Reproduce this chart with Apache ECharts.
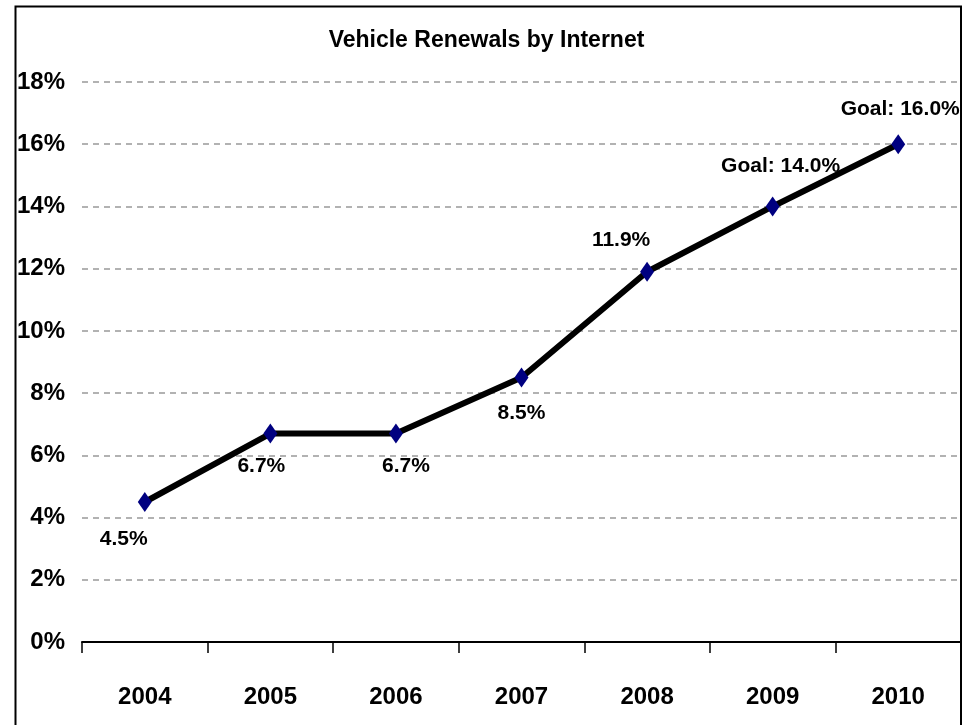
<!DOCTYPE html>
<html>
<head>
<meta charset="utf-8">
<script src="https://cdn.jsdelivr.net/npm/echarts@6/dist/echarts.min.js"></script>
<style>
html,body{margin:0;padding:0;background:#fff;}
#chart{width:973px;height:725px;}
</style>
</head>
<body>
<div id="chart"></div>
<script>
const titleText = 'Vehicle Renewals by Internet';
const categories = ['2004', '2005', '2006', '2007', '2008', '2009', '2010'];
const renewalPct = [4.5, 6.7, 6.7, 8.5, 11.9, 14.0, 16.0];
const labelPrefix = ['', '', '', '', '', 'Goal: ', 'Goal: '];
const yTicks = [0, 2, 4, 6, 8, 10, 12, 14, 16, 18];

// label placement (style only)
const labelOffsets = [[-21, 37], [-9, 33], [10, 33], [0, 36], [-26, -32], [8, -40], [2, -35]];

const FONT = "'Liberation Sans', Arial, sans-serif";

const chart = echarts.init(document.getElementById('chart'));
chart.setOption({
  backgroundColor: '#fff',
  animation: false,
  title: {
    text: titleText,
    left: 'center',
    top: 24,
    textStyle: { fontFamily: FONT, fontWeight: 'bold', fontSize: 23, color: '#000' }
  },
  graphic: [{
    type: 'rect',
    silent: true,
    shape: { x: 15.5, y: 6.5, width: 945.5, height: 800 },
    style: { fill: 'none', stroke: '#000', lineWidth: 2 }
  }],
  grid: { left: 82, right: 12, top: 82, bottom: 83, containLabel: false },
  xAxis: {
    type: 'category',
    data: categories,
    boundaryGap: true,
    axisLine: { lineStyle: { color: '#000', width: 2 } },
    axisTick: { show: true, length: 11, inside: false, lineStyle: { color: '#000', width: 1.5 } },
    axisLabel: { margin: 43, fontFamily: FONT, fontWeight: 'bold', fontSize: 24, color: '#000' },
    splitLine: { show: false }
  },
  yAxis: {
    type: 'value',
    min: yTicks[0],
    max: yTicks[yTicks.length - 1],
    interval: yTicks[1] - yTicks[0],
    axisLine: { show: false },
    axisTick: { show: false },
    axisLabel: { margin: 17, formatter: '{value}%', fontFamily: FONT, fontWeight: 'bold', fontSize: 24, color: '#000' },
    splitLine: { show: true, lineStyle: { color: '#999', width: 1.5, type: [6, 5] } }
  },
  series: [{
    type: 'line',
    data: renewalPct.map((v, i) => ({
      value: v,
      label: {
        show: true,
        position: 'inside',
        offset: labelOffsets[i],
        formatter: labelPrefix[i] + v.toFixed(1) + '%'
      }
    })),
    lineStyle: { color: '#000', width: 6 },
    symbol: 'diamond',
    symbolSize: [14, 20],
    itemStyle: { color: '#000080' },
    label: { fontFamily: FONT, fontWeight: 'bold', fontSize: 21, color: '#000' },
    z: 3
  }]
});
</script>
</body>
</html>
